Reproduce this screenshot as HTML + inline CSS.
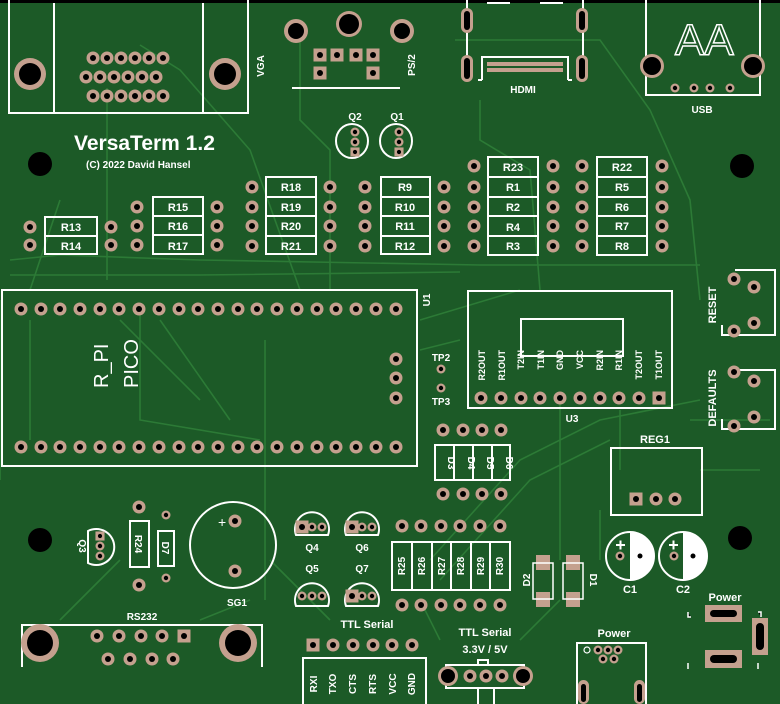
<!DOCTYPE html>
<html><head><meta charset="utf-8"><style>
html,body{margin:0;padding:0;background:#1c5a27;}
svg{display:block}
text{font-family:"Liberation Sans",sans-serif;fill:#fff;font-weight:bold}
</style></head><body>
<svg width="780" height="704" viewBox="0 0 780 704" xmlns="http://www.w3.org/2000/svg">
<defs>
<g id="p"><circle r="6.5" fill="#c4a08e"/><circle r="3" fill="#000"/></g>
<g id="ps"><rect x="-6.5" y="-6.5" width="13" height="13" fill="#c4a08e"/><circle r="3" fill="#000"/></g>
<g id="sp"><circle r="4.5" fill="#c4a08e"/><circle r="2.2" fill="#000"/></g>
</defs>
<rect width="780" height="704" fill="#1c5a27"/>
<rect width="780" height="3" fill="#000"/>
<!-- traces -->
<g stroke="#2c7a36" stroke-width="1.6" fill="none">
<path d="M107 88 L107 280 M140 45 L180 70 L250 150 L300 290"/>
<path d="M300 40 L300 120 L330 150 L330 290"/>
<path d="M455 40 L600 40 L650 110 L690 200 L700 300"/>
<path d="M480 100 L480 140 L530 170 L540 290"/>
<path d="M10 260 L60 255 L200 260 L480 265 L700 265"/>
<path d="M10 275 L200 275 L460 272"/>
<path d="M60 200 L30 290 M30 320 L30 440"/>
<path d="M140 315 L140 420 L260 440 M160 320 L230 420"/>
<path d="M265 340 L265 600 M120 320 L200 400"/>
<path d="M420 320 L520 290 M420 350 L460 340"/>
<path d="M430 560 L520 460 L600 420 L700 400 M440 580 L530 480 L610 440"/>
<path d="M560 400 L560 560 M620 410 L620 470"/>
<path d="M330 620 L300 590 L270 560 M250 600 L200 620 M60 620 L120 560"/>
<path d="M600 510 L600 560 M700 470 L760 470 M690 420 L770 420"/>
<path d="M0 300 L0 480 M420 600 L440 640 M520 640 L560 600"/>
</g>

<!-- VGA -->
<g stroke="#fff" stroke-width="2" fill="none">
<path d="M9 0 V113 H248 V0 M54 3 V113 M203 3 V113"/>
</g>
<circle cx="30" cy="74" r="16" fill="#c4a08e"/><circle cx="30" cy="74" r="11" fill="#000"/>
<circle cx="225" cy="74" r="16" fill="#c4a08e"/><circle cx="225" cy="74" r="11" fill="#000"/>
<use href="#p" x="93" y="58"/><use href="#p" x="107" y="58"/><use href="#p" x="121" y="58"/><use href="#p" x="135" y="58"/><use href="#p" x="149" y="58"/><use href="#p" x="163" y="58"/>
<use href="#p" x="86" y="77"/><use href="#p" x="100" y="77"/><use href="#p" x="114" y="77"/><use href="#p" x="128" y="77"/><use href="#p" x="142" y="77"/><use href="#p" x="156" y="77"/>
<use href="#p" x="93" y="96"/><use href="#p" x="107" y="96"/><use href="#p" x="121" y="96"/><use href="#p" x="135" y="96"/><use href="#p" x="149" y="96"/><use href="#p" x="163" y="96"/>
<text x="264" y="66" font-size="10" transform="rotate(-90 264 66)" text-anchor="middle">VGA</text>

<!-- PS/2 -->
<circle cx="296" cy="31" r="12" fill="#c4a08e"/><circle cx="296" cy="31" r="8" fill="#000"/>
<circle cx="349" cy="24" r="13" fill="#c4a08e"/><circle cx="349" cy="24" r="10" fill="#000"/>
<circle cx="402" cy="31" r="12" fill="#c4a08e"/><circle cx="402" cy="31" r="8" fill="#000"/>
<use href="#ps" x="320" y="55"/><use href="#ps" x="337" y="55"/><use href="#ps" x="356" y="55"/><use href="#ps" x="373" y="55"/><use href="#ps" x="320" y="73"/><use href="#ps" x="373" y="73"/>
<line x1="292" y1="88" x2="400" y2="88" stroke="#fff" stroke-width="2"/>
<text x="415" y="65" font-size="10" transform="rotate(-90 415 65)" text-anchor="middle">PS/2</text>

<!-- HDMI -->
<g stroke="#fff" stroke-width="2" fill="none">
<path d="M467 0 V80 M583 0 V80 M482 80 V57 H568 V80 M482 80 H478 M568 80 H572 M487 3 H510 M540 3 H563"/>
</g>
<rect x="461" y="8" width="12" height="25" rx="6" fill="#c4a08e"/><rect x="464" y="11" width="6" height="19" rx="3" fill="#000"/>
<rect x="461" y="55" width="12" height="27" rx="6" fill="#c4a08e"/><rect x="464" y="58" width="6" height="21" rx="3" fill="#000"/>
<rect x="576" y="8" width="12" height="25" rx="6" fill="#c4a08e"/><rect x="579" y="11" width="6" height="19" rx="3" fill="#000"/>
<rect x="576" y="55" width="12" height="27" rx="6" fill="#c4a08e"/><rect x="579" y="58" width="6" height="21" rx="3" fill="#000"/>
<g fill="#c4a08e"><rect x="487" y="62" width="76" height="4"/><rect x="487" y="68" width="76" height="4"/></g>
<text x="523" y="93" font-size="10" text-anchor="middle">HDMI</text>

<!-- USB -->
<path d="M646 0 V95 H760 V0" stroke="#fff" stroke-width="2" fill="none"/>
<text x="675" y="55" font-size="44" style="fill:none;font-weight:normal" stroke="#fff" stroke-width="1.5">AA</text>
<circle cx="652" cy="66" r="12" fill="#c4a08e"/><circle cx="652" cy="66" r="9" fill="#000"/>
<circle cx="753" cy="66" r="12" fill="#c4a08e"/><circle cx="753" cy="66" r="9" fill="#000"/>
<use href="#sp" x="675" y="88"/><use href="#sp" x="694" y="88"/><use href="#sp" x="710" y="88"/><use href="#sp" x="730" y="88"/>
<text x="702" y="113" font-size="10" text-anchor="middle">USB</text>

<!-- title -->
<text x="74" y="150" font-size="21">VersaTerm 1.2</text>
<text x="86" y="168" font-size="10">(C) 2022 David Hansel</text>

<!-- mount holes -->
<circle cx="40" cy="164" r="12" fill="#000"/>
<circle cx="742" cy="166" r="12" fill="#000"/>
<circle cx="40" cy="540" r="12" fill="#000"/>
<circle cx="740" cy="538" r="12" fill="#000"/>

<!-- Q1 Q2 -->
<text x="355" y="120" font-size="10" text-anchor="middle">Q2</text>
<text x="397" y="120" font-size="10" text-anchor="middle">Q1</text>
<ellipse cx="352" cy="141" rx="16" ry="17" fill="none" stroke="#fff" stroke-width="2"/>
<ellipse cx="396" cy="141" rx="16" ry="17" fill="none" stroke="#fff" stroke-width="2"/>
<use href="#sp" x="355" y="132"/><use href="#sp" x="355" y="142"/><use href="#ps" x="355" y="152" transform="translate(355 152) scale(0.7) translate(-355 -152)"/>
<use href="#sp" x="399" y="132"/><use href="#sp" x="399" y="142"/><use href="#ps" x="399" y="152" transform="translate(399 152) scale(0.7) translate(-399 -152)"/>

<!-- resistors -->
<g stroke="#fff" stroke-width="2" fill="none">
<rect x="45" y="217" width="52" height="37"/><line x1="45" y1="236" x2="97" y2="236"/>
<rect x="153" y="197" width="50" height="57"/><line x1="153" y1="216" x2="203" y2="216"/><line x1="153" y1="235" x2="203" y2="235"/>
<rect x="266" y="177" width="50" height="77"/><line x1="266" y1="197" x2="316" y2="197"/><line x1="266" y1="216" x2="316" y2="216"/><line x1="266" y1="236" x2="316" y2="236"/>
<rect x="381" y="177" width="49" height="77"/><line x1="381" y1="197" x2="430" y2="197"/><line x1="381" y1="216" x2="430" y2="216"/><line x1="381" y1="236" x2="430" y2="236"/>
<rect x="488" y="157" width="50" height="98"/><line x1="488" y1="177" x2="538" y2="177"/><line x1="488" y1="197" x2="538" y2="197"/><line x1="488" y1="216" x2="538" y2="216"/><line x1="488" y1="236" x2="538" y2="236"/>
<rect x="597" y="157" width="50" height="98"/><line x1="597" y1="177" x2="647" y2="177"/><line x1="597" y1="197" x2="647" y2="197"/><line x1="597" y1="216" x2="647" y2="216"/><line x1="597" y1="236" x2="647" y2="236"/>
</g>
<g font-size="11" text-anchor="middle">
<text x="71" y="231">R13</text><text x="71" y="250">R14</text>
<text x="178" y="211">R15</text><text x="178" y="230">R16</text><text x="178" y="250">R17</text>
<text x="291" y="191">R18</text><text x="291" y="211">R19</text><text x="291" y="230">R20</text><text x="291" y="250">R21</text>
<text x="405" y="191">R9</text><text x="405" y="211">R10</text><text x="405" y="230">R11</text><text x="405" y="250">R12</text>
<text x="513" y="171">R23</text><text x="513" y="191">R1</text><text x="513" y="211">R2</text><text x="513" y="231">R4</text><text x="513" y="250">R3</text>
<text x="622" y="171">R22</text><text x="622" y="191">R5</text><text x="622" y="211">R6</text><text x="622" y="230">R7</text><text x="622" y="250">R8</text>
</g>
<use href="#p" x="30" y="227"/><use href="#p" x="30" y="245"/><use href="#p" x="111" y="227"/><use href="#p" x="111" y="245"/>
<use href="#p" x="137" y="207"/><use href="#p" x="137" y="226"/><use href="#p" x="137" y="245"/><use href="#p" x="217" y="207"/><use href="#p" x="217" y="226"/><use href="#p" x="217" y="245"/>
<use href="#p" x="252" y="187"/><use href="#p" x="252" y="207"/><use href="#p" x="252" y="226"/><use href="#p" x="252" y="246"/>
<use href="#p" x="330" y="187"/><use href="#p" x="330" y="207"/><use href="#p" x="330" y="226"/><use href="#p" x="330" y="246"/>
<use href="#p" x="365" y="187"/><use href="#p" x="365" y="207"/><use href="#p" x="365" y="226"/><use href="#p" x="365" y="246"/>
<use href="#p" x="444" y="187"/><use href="#p" x="444" y="207"/><use href="#p" x="444" y="226"/><use href="#p" x="444" y="246"/>
<use href="#p" x="474" y="187"/><use href="#p" x="474" y="207"/><use href="#p" x="474" y="226"/><use href="#p" x="474" y="246"/>
<use href="#p" x="474" y="166"/><use href="#p" x="553" y="166"/>
<use href="#p" x="553" y="187"/><use href="#p" x="553" y="207"/><use href="#p" x="553" y="226"/><use href="#p" x="553" y="246"/>
<use href="#p" x="582" y="166"/><use href="#p" x="582" y="187"/><use href="#p" x="582" y="207"/><use href="#p" x="582" y="226"/><use href="#p" x="582" y="246"/>
<use href="#p" x="662" y="166"/><use href="#p" x="662" y="187"/><use href="#p" x="662" y="207"/><use href="#p" x="662" y="226"/><use href="#p" x="662" y="246"/>

<!-- U1 -->
<rect x="2" y="290" width="415" height="176" fill="none" stroke="#fff" stroke-width="2"/>
<g id="row1">
<use href="#p" x="21" y="309"/><use href="#p" x="41" y="309"/><use href="#p" x="60" y="309"/><use href="#p" x="80" y="309"/><use href="#p" x="100" y="309"/><use href="#p" x="119" y="309"/><use href="#p" x="139" y="309"/><use href="#p" x="159" y="309"/><use href="#p" x="179" y="309"/><use href="#p" x="198" y="309"/><use href="#p" x="218" y="309"/><use href="#p" x="238" y="309"/><use href="#p" x="257" y="309"/><use href="#p" x="277" y="309"/><use href="#p" x="297" y="309"/><use href="#p" x="317" y="309"/><use href="#p" x="336" y="309"/><use href="#p" x="356" y="309"/><use href="#p" x="376" y="309"/><use href="#p" x="396" y="309"/>
</g>
<use href="#row1" y="138"/>
<use href="#p" x="396" y="359"/><use href="#p" x="396" y="378"/><use href="#p" x="396" y="398"/>
<text x="108" y="388" font-size="20" style="font-weight:normal" transform="rotate(-90 108 388)">R_PI</text>
<text x="138" y="388" font-size="20" style="font-weight:normal" transform="rotate(-90 138 388)">PICO</text>
<text x="430" y="300" font-size="10" transform="rotate(-90 430 300)" text-anchor="middle">U1</text>
<text x="441" y="361" font-size="10" text-anchor="middle">TP2</text>
<use href="#sp" x="441" y="369"/><use href="#sp" x="441" y="388"/>
<text x="441" y="405" font-size="10" text-anchor="middle">TP3</text>

<!-- U3 -->
<rect x="468" y="291" width="204" height="117" fill="none" stroke="#fff" stroke-width="2"/>
<rect x="521" y="319" width="102" height="37" fill="none" stroke="#fff" stroke-width="2"/>
<g font-size="9" text-anchor="end">
<text transform="translate(485,350) rotate(-90)">R2OUT</text>
<text transform="translate(505,350) rotate(-90)">R1OUT</text>
<text transform="translate(524,350) rotate(-90)">T2IN</text>
<text transform="translate(544,350) rotate(-90)">T1IN</text>
<text transform="translate(563,350) rotate(-90)">GND</text>
<text transform="translate(583,350) rotate(-90)">VCC</text>
<text transform="translate(603,350) rotate(-90)">R2IN</text>
<text transform="translate(622,350) rotate(-90)">R1IN</text>
<text transform="translate(642,350) rotate(-90)">T2OUT</text>
<text transform="translate(662,350) rotate(-90)">T1OUT</text>
</g>
<use href="#p" x="481" y="398"/><use href="#p" x="501" y="398"/><use href="#p" x="521" y="398"/><use href="#p" x="540" y="398"/><use href="#p" x="560" y="398"/><use href="#p" x="580" y="398"/><use href="#p" x="600" y="398"/><use href="#p" x="619" y="398"/><use href="#p" x="639" y="398"/><use href="#ps" x="659" y="398"/>
<text x="572" y="422" font-size="10" text-anchor="middle">U3</text>

<!-- D3-D6 -->
<rect x="435" y="445" width="75" height="35" fill="none" stroke="#fff" stroke-width="2"/>
<g stroke="#fff" stroke-width="2"><line x1="454" y1="445" x2="454" y2="480"/><line x1="473" y1="445" x2="473" y2="480"/><line x1="492" y1="445" x2="492" y2="480"/></g>
<g font-size="10" text-anchor="middle">
<text transform="translate(448,463) rotate(90)">D3</text><text transform="translate(468,463) rotate(90)">D4</text><text transform="translate(487,463) rotate(90)">D5</text><text transform="translate(506,463) rotate(90)">D6</text>
</g>
<use href="#p" x="443" y="430"/><use href="#p" x="463" y="430"/><use href="#p" x="482" y="430"/><use href="#p" x="501" y="430"/>
<use href="#p" x="443" y="494"/><use href="#p" x="463" y="494"/><use href="#p" x="482" y="494"/><use href="#p" x="501" y="494"/>

<!-- RESET / DEFAULTS -->
<g stroke="#fff" stroke-width="2" fill="none">
<path d="M735 270 H775 V335 H722 V325"/>
<path d="M735 370 H775 V429 H722 V419"/>
</g>
<use href="#p" x="734" y="279"/><use href="#p" x="754" y="287"/><use href="#p" x="754" y="323"/><use href="#p" x="734" y="331"/>
<use href="#p" x="734" y="372"/><use href="#p" x="754" y="381"/><use href="#p" x="754" y="417"/><use href="#p" x="734" y="426"/>
<text transform="translate(716,305) rotate(-90)" font-size="11" text-anchor="middle">RESET</text>
<text transform="translate(716,398) rotate(-90)" font-size="11" text-anchor="middle">DEFAULTS</text>

<!-- REG1 -->
<text x="655" y="443" font-size="11" text-anchor="middle">REG1</text>
<rect x="611" y="448" width="91" height="67" fill="none" stroke="#fff" stroke-width="2"/>
<use href="#ps" x="636" y="499"/><use href="#p" x="656" y="499"/><use href="#p" x="675" y="499"/>

<!-- C1 C2 -->
<circle cx="630" cy="556" r="24" fill="none" stroke="#fff" stroke-width="2"/>
<path d="M630 532 A24 24 0 0 1 630 580 Z" fill="#fff"/>
<circle cx="683" cy="556" r="24" fill="none" stroke="#fff" stroke-width="2"/>
<path d="M683 532 A24 24 0 0 1 683 580 Z" fill="#fff"/>
<use href="#sp" x="620" y="556"/><circle cx="640" cy="556" r="2.5" fill="#000"/>
<use href="#sp" x="674" y="556"/><circle cx="693" cy="556" r="2.5" fill="#000"/>
<g stroke="#fff" stroke-width="2"><path d="M616 545 h9 M620.5 540.5 v9 M669 545 h9 M673.5 540.5 v9"/></g>
<text x="630" y="593" font-size="11" text-anchor="middle">C1</text>
<text x="683" y="593" font-size="11" text-anchor="middle">C2</text>

<!-- D1 D2 -->
<rect x="536" y="555" width="14" height="15" fill="#c4a08e"/><rect x="536" y="592" width="14" height="15" fill="#c4a08e"/>
<rect x="566" y="555" width="14" height="15" fill="#c4a08e"/><rect x="566" y="592" width="14" height="15" fill="#c4a08e"/>
<rect x="533" y="563" width="20" height="36" fill="none" stroke="#fff" stroke-width="1.5"/>
<rect x="563" y="563" width="20" height="36" fill="none" stroke="#fff" stroke-width="1.5"/>
<text transform="translate(530,580) rotate(-90)" font-size="10" text-anchor="middle">D2</text>
<text transform="translate(590,580) rotate(90)" font-size="10" text-anchor="middle">D1</text>

<!-- Power right -->
<text x="725" y="601" font-size="11" text-anchor="middle">Power</text>
<rect x="705" y="605" width="37" height="17" fill="#c4a08e"/><rect x="710" y="610" width="27" height="7" rx="3.5" fill="#000"/>
<rect x="705" y="650" width="37" height="18" fill="#c4a08e"/><rect x="710" y="655" width="27" height="8" rx="4" fill="#000"/>
<rect x="752" y="618" width="16" height="37" fill="#c4a08e"/><rect x="756" y="623" width="8" height="27" rx="4" fill="#000"/>
<g stroke="#fff" stroke-width="1.5"><path d="M688 612 v5 h3 M758 612 h3 v5 M688 663 v6 M758 663 v6"/></g>

<!-- R25-R30 -->
<rect x="392" y="542" width="118" height="48" fill="none" stroke="#fff" stroke-width="2"/>
<g stroke="#fff" stroke-width="2"><line x1="412" y1="542" x2="412" y2="590"/><line x1="432" y1="542" x2="432" y2="590"/><line x1="451" y1="542" x2="451" y2="590"/><line x1="471" y1="542" x2="471" y2="590"/><line x1="490" y1="542" x2="490" y2="590"/></g>
<g font-size="10" text-anchor="middle">
<text transform="translate(405,566) rotate(-90)">R25</text><text transform="translate(425,566) rotate(-90)">R26</text><text transform="translate(445,566) rotate(-90)">R27</text><text transform="translate(464,566) rotate(-90)">R28</text><text transform="translate(484,566) rotate(-90)">R29</text><text transform="translate(503,566) rotate(-90)">R30</text>
</g>
<use href="#p" x="402" y="526"/><use href="#p" x="421" y="526"/><use href="#p" x="441" y="526"/><use href="#p" x="460" y="526"/><use href="#p" x="480" y="526"/><use href="#p" x="500" y="526"/>
<use href="#p" x="402" y="605"/><use href="#p" x="421" y="605"/><use href="#p" x="441" y="605"/><use href="#p" x="460" y="605"/><use href="#p" x="480" y="605"/><use href="#p" x="500" y="605"/>

<!-- Q4-Q7 -->
<g stroke="#fff" stroke-width="2" fill="none">
<path d="M296 535 A17 17 0 1 1 328 535 Z"/>
<path d="M346 535 A17 17 0 1 1 378 535 Z"/>
<path d="M296 606 A17 17 0 1 1 328 606 Z"/>
<path d="M346 606 A17 17 0 1 1 378 606 Z"/>
</g>
<use href="#ps" x="302" y="527"/><use href="#sp" x="312" y="527"/><use href="#sp" x="322" y="527"/>
<use href="#ps" x="352" y="527"/><use href="#sp" x="362" y="527"/><use href="#sp" x="372" y="527"/>
<use href="#sp" x="302" y="596"/><use href="#sp" x="312" y="596"/><use href="#sp" x="322" y="596"/>
<use href="#ps" x="352" y="596"/><use href="#sp" x="362" y="596"/><use href="#sp" x="372" y="596"/>
<g font-size="10" text-anchor="middle"><text x="312" y="551">Q4</text><text x="362" y="551">Q6</text><text x="312" y="572">Q5</text><text x="362" y="572">Q7</text></g>

<!-- SG1 -->
<circle cx="233" cy="545" r="43" fill="none" stroke="#fff" stroke-width="2"/>
<use href="#p" x="235" y="521"/><use href="#p" x="235" y="571"/>
<text x="218" y="527" font-size="14" style="font-weight:normal">+</text>
<text x="237" y="606" font-size="10" text-anchor="middle">SG1</text>

<!-- R24 D7 Q3 -->
<rect x="130" y="521" width="19" height="46" fill="none" stroke="#fff" stroke-width="2"/>
<rect x="158" y="531" width="16" height="35" fill="none" stroke="#fff" stroke-width="2"/>
<text transform="translate(135,544) rotate(90)" font-size="10" text-anchor="middle">R24</text>
<text transform="translate(162,548) rotate(90)" font-size="10" text-anchor="middle">D7</text>
<use href="#p" x="139" y="507"/><use href="#p" x="139" y="585"/><use href="#sp" x="166" y="515"/><use href="#sp" x="166" y="578"/>
<path d="M88 531 A18 18 0 1 1 88 563 Z" fill="none" stroke="#fff" stroke-width="2"/>
<use href="#ps" x="100" y="536" transform="translate(100 536) scale(0.7) translate(-100 -536)"/><use href="#sp" x="100" y="546"/><use href="#sp" x="100" y="556"/>
<text transform="translate(79,546) rotate(90)" font-size="10" text-anchor="middle">Q3</text>

<!-- RS232 -->
<text x="142" y="620" font-size="10" text-anchor="middle">RS232</text>
<path d="M22 667 V625 H262 V667" fill="none" stroke="#fff" stroke-width="2"/>
<circle cx="40" cy="643" r="19" fill="#c4a08e"/><circle cx="40" cy="643" r="13" fill="#000"/>
<circle cx="238" cy="643" r="19" fill="#c4a08e"/><circle cx="238" cy="643" r="13" fill="#000"/>
<use href="#p" x="97" y="636"/><use href="#p" x="119" y="636"/><use href="#p" x="141" y="636"/><use href="#p" x="162" y="636"/><use href="#ps" x="184" y="636"/>
<use href="#p" x="108" y="659"/><use href="#p" x="130" y="659"/><use href="#p" x="152" y="659"/><use href="#p" x="173" y="659"/>

<!-- TTL Serial -->
<text x="367" y="628" font-size="11" text-anchor="middle">TTL Serial</text>
<use href="#ps" x="313" y="645"/><use href="#p" x="333" y="645"/><use href="#p" x="353" y="645"/><use href="#p" x="373" y="645"/><use href="#p" x="392" y="645"/><use href="#p" x="412" y="645"/>
<rect x="303" y="658" width="123" height="48" fill="none" stroke="#fff" stroke-width="2"/>
<g font-size="10" text-anchor="middle">
<text transform="translate(317,684) rotate(-90)">RXI</text><text transform="translate(336,684) rotate(-90)">TXO</text><text transform="translate(356,684) rotate(-90)">CTS</text><text transform="translate(376,684) rotate(-90)">RTS</text><text transform="translate(396,684) rotate(-90)">VCC</text><text transform="translate(415,684) rotate(-90)">GND</text>
</g>
<text x="485" y="636" font-size="11" text-anchor="middle">TTL Serial</text>
<text x="485" y="653" font-size="11" text-anchor="middle">3.3V / 5V</text>
<path d="M446 665 H524 V688 H446 Z M478 665 v-5 h10 v5 M478 688 v16 M494 688 v16" fill="none" stroke="#fff" stroke-width="2"/>
<circle cx="448" cy="676" r="10" fill="#c4a08e"/><circle cx="448" cy="676" r="7" fill="#000"/>
<circle cx="523" cy="676" r="10" fill="#c4a08e"/><circle cx="523" cy="676" r="7" fill="#000"/>
<use href="#p" x="470" y="676"/><use href="#p" x="486" y="676"/><use href="#p" x="502" y="676"/>

<!-- Power jack bottom -->
<text x="614" y="637" font-size="11" text-anchor="middle">Power</text>
<path d="M577 704 V643 H646 V704" fill="none" stroke="#fff" stroke-width="2"/>
<circle cx="587" cy="650" r="3" fill="none" stroke="#fff" stroke-width="1.2"/>
<use href="#sp" x="598" y="650"/><use href="#sp" x="608" y="650"/><use href="#sp" x="618" y="650"/><use href="#sp" x="603" y="659"/><use href="#sp" x="614" y="659"/>
<rect x="578" y="680" width="11" height="24" rx="5.5" fill="#c4a08e"/><rect x="581" y="684" width="5" height="18" rx="2.5" fill="#000"/>
<rect x="634" y="680" width="11" height="24" rx="5.5" fill="#c4a08e"/><rect x="637" y="684" width="5" height="18" rx="2.5" fill="#000"/>
</svg>
</body></html>
